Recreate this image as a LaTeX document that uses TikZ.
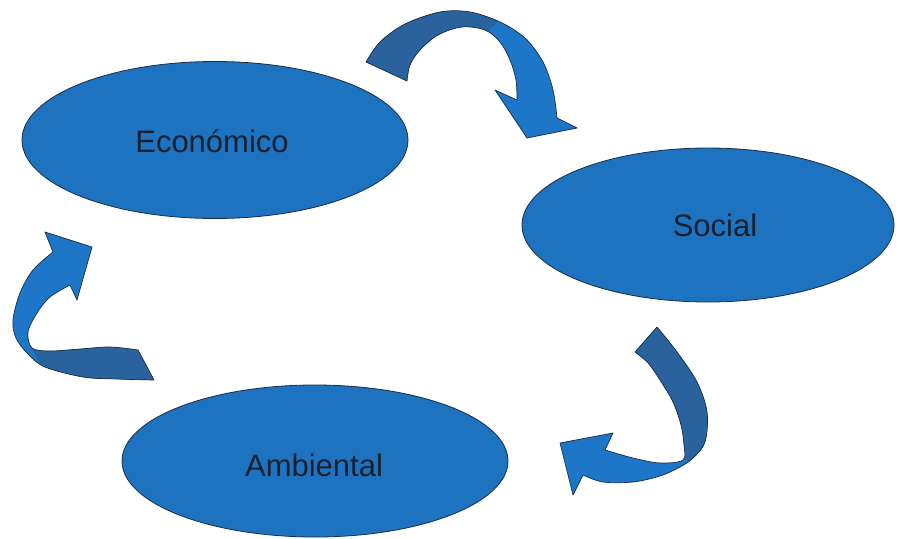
\documentclass[tikz,border=0pt]{standalone}
\usepackage{fontspec}
\setmainfont{Liberation Sans}
\usetikzlibrary{shapes.geometric}
\definecolor{ellfill}{RGB}{30,115,192}
\definecolor{edgecol}{RGB}{25,45,70}
\definecolor{arrdark}{RGB}{42,98,158}
\definecolor{arrbright}{RGB}{30,118,200}
\definecolor{txtcol}{RGB}{25,32,45}
\def\ArrTop{plot[smooth,tension=0.55] coordinates {(366,62) (380,42) (405,24) (440,12) (470,12) (500,22) (525,38) (543,62) (553,90) (557,118)} -- (577,128) -- (527,138) -- (495,90) -- plot[smooth,tension=0.55] coordinates {(517,100) (516,80) (510,60) (500,42) (485,30) (462,27) (438,35) (420,50) (410,65) (407,81)} -- cycle}
\def\ArrLeft{plot[smooth,tension=0.55] coordinates {(138,350) (110,347) (80,349) (50,351) (32,348) (28,332) (37,313) (50,297) (70,285)} -- (77,300) -- (92,247) -- (45,232) -- plot[smooth,tension=0.55] coordinates {(53,252) (33,270) (20,293) (13,320) (16,338) (28,354) (45,367) (83,377) (117,379) (154,380)} -- cycle}
\def\ArrRight{(635,352) -- plot[smooth,tension=0.55] coordinates {(657,327) (677,352) (697,382) (707,412) (705,442) (693,458) (680,467) (660,476) (633,482) (603,482) (583,475)} -- (573,495) -- (560,443) -- (613,433) -- plot[smooth,tension=0.55] coordinates {(605,450) (633,458) (660,463) (683,460) (684,445) (681,425) (673,402) (660,380) (648,363) (635,352)} -- cycle}
\begin{document}
\begin{tikzpicture}[x=1pt,y=-1pt,
  ell/.style={ellipse, draw=edgecol, line width=0.8pt, fill=ellfill, inner sep=0pt},
  lbl/.style={anchor=base, text=txtcol, inner sep=0pt, font=\fontsize{31}{36}\selectfont},
  arrowedge/.style={draw=edgecol, line width=0.7pt, line join=round}]
\useasboundingbox (0,0) rectangle (902,538);
% ellipses
\node[ell, minimum width=386pt, minimum height=157pt] (eco) at (215,140) {};
\node[ell, minimum width=372pt, minimum height=154pt] (soc) at (708,225) {};
\node[ell, minimum width=386pt, minimum height=152pt] (amb) at (315,461) {};
\node[lbl] (ecol) at (212,152) {Económico};
\node[lbl] (socl) at (715,236) {Social};
\node[lbl] (ambl) at (314,476) {Ambiental};
% top arrow
\fill[arrbright] \ArrTop;
\begin{scope}
  \clip (300,0) -- (505,0) -- (499,20) -- (487,33) -- (480,120) -- (300,120) -- cycle;
  \fill[arrdark] \ArrTop;
\end{scope}
\path[arrowedge] \ArrTop;
% left arrow
\fill[arrbright] \ArrLeft;
\begin{scope}
  \clip (30,345) -- (200,340) -- (200,400) -- (60,400) -- cycle;
  \fill[arrdark] \ArrLeft;
\end{scope}
\path[arrowedge] \ArrLeft;
% right arrow
\fill[arrbright] \ArrRight;
\begin{scope}
  \clip (620,300) -- (730,300) -- (730,448) -- (688,462) -- (675,440) -- (640,380) -- (620,350) -- cycle;
  \fill[arrdark] \ArrRight;
\end{scope}
\path[arrowedge] \ArrRight;
\end{tikzpicture}
\end{document}
